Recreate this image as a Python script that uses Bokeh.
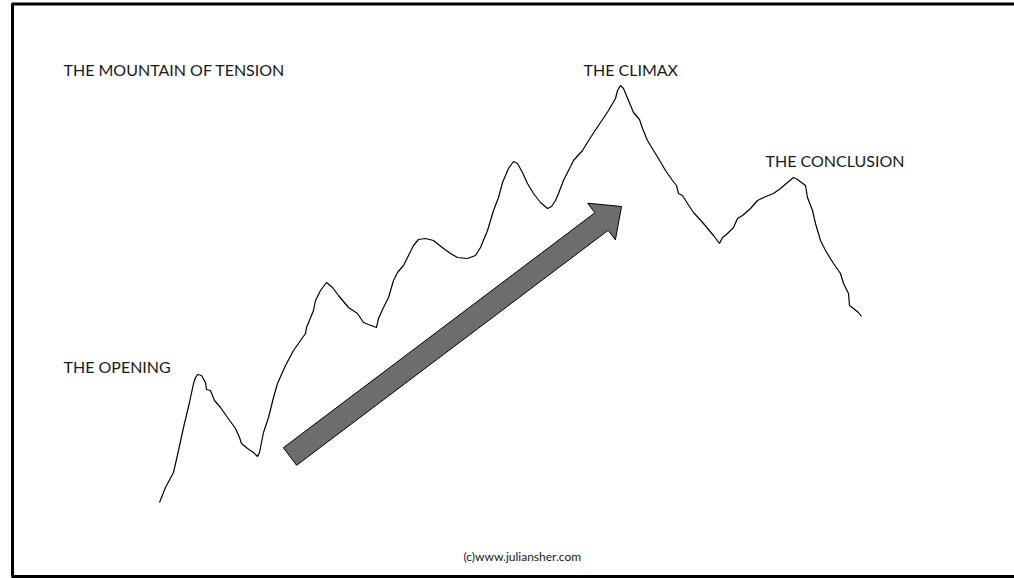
from bokeh.plotting import figure
from bokeh.models import Range1d, ColumnDataSource
from bokeh.embed import file_html
from bokeh.resources import INLINE
from bokeh.core.properties import value
import math

# Mountain outline (image-space coordinates)
mountain_x = [159, 165, 173, 178, 183, 189, 193, 195, 197, 201, 205, 206, 210, 214, 220, 227, 235, 239,
              241, 247, 253, 257, 259, 263, 268, 273, 277, 285, 293, 305, 306, 313, 315, 320, 326, 332,
              338, 348, 357, 363, 368, 376, 378, 383, 388, 393, 397, 403, 408, 413, 418, 425, 433, 443,
              450, 457, 467, 475, 480, 487, 493, 498, 502, 508, 513, 517, 522, 527, 533, 540, 547, 551,
              555, 558, 563, 568, 573, 582, 590, 600, 608, 615, 617, 620, 623, 628, 633, 639, 642, 647,
              653, 658, 665, 672, 676, 678, 682, 687, 693, 703, 713, 719, 722, 727, 733, 737, 742, 750,
              757, 763, 773, 780, 787, 793, 797, 805, 807, 812, 815, 820, 825, 833, 840, 843, 848, 849,
              853, 858, 861]
mountain_y = [502, 487, 472, 450, 427, 402, 383, 377, 374, 375, 382, 389, 390, 400, 407, 417, 428, 437,
              443, 448, 452, 456, 452, 432, 417, 397, 383, 365, 350, 333, 327, 310, 300, 290, 282, 287,
              295, 307, 313, 322, 324, 327, 318, 307, 297, 280, 272, 265, 255, 245, 239, 238, 240, 248,
              253, 257, 258, 255, 247, 230, 210, 197, 182, 168, 161, 163, 172, 183, 193, 202, 208, 206,
              200, 193, 180, 170, 160, 150, 137, 122, 110, 98, 90, 85, 88, 100, 112, 119, 128, 140,
              150, 158, 170, 180, 185, 193, 195, 203, 212, 223, 235, 243, 237, 233, 227, 218, 215, 208,
              200, 197, 193, 188, 182, 177, 179, 185, 197, 210, 223, 240, 250, 263, 273, 283, 293, 305,
              308, 312, 316]

# Arrow: tail centre, tip, shaft width, head width, head length
arrow_tail = (289.5, 456.0)
arrow_tip = (621.0, 206.0)
shaft_width = 22.0
head_width = 46.0
head_length = 25.0

labels = ["THE MOUNTAIN OF TENSION", "THE CLIMAX", "THE CONCLUSION", "THE OPENING"]
label_x = [63, 583, 765, 63]
label_y = [69, 69, 160, 366]
credit = "(c)www.juliansher.com"

W, H = 1014, 578
p = figure(width=W, height=H, output_backend="svg", toolbar_location=None,
           x_range=Range1d(0, W), y_range=Range1d(H, 0),
           min_border=0, outline_line_color=None)
p.axis.visible = False
p.grid.visible = False
p.background_fill_color = "white"
p.border_fill_color = "white"

# frame
p.line([12, 12], [3.5, 576], line_color="black", line_width=3)
p.line([11, 1020], [576, 576], line_color="black", line_width=3)
p.line([11, 1020], [3.5, 3.5], line_color="black", line_width=3)

# mountain
p.line(mountain_x, mountain_y, line_color="black", line_width=1.2)

# arrow polygon computed from the arrow parameters
tx, ty = arrow_tail
hx, hy = arrow_tip
L = math.hypot(hx - tx, hy - ty)
ux, uy = (hx - tx) / L, (hy - ty) / L
nx, ny = -uy, ux
bx, by = hx - ux * head_length, hy - uy * head_length
sw, hw = shaft_width / 2, head_width / 2
pts = [
    (tx + nx * sw, ty + ny * sw),
    (bx + nx * sw, by + ny * sw),
    (bx + nx * hw, by + ny * hw),
    (hx, hy),
    (bx - nx * hw, by - ny * hw),
    (bx - nx * sw, by - ny * sw),
    (tx - nx * sw, ty - ny * sw),
]
p.patch([q[0] for q in pts], [q[1] for q in pts], fill_color="#6d6d6d",
        line_color="black", line_width=1)

src = ColumnDataSource(dict(x=label_x, y=label_y, t=labels))
p.text(x="x", y="y", text="t", source=src, text_font=value("Lato"),
       text_font_size="16px", text_color="#1a1a1a", text_align="left",
       text_baseline="alphabetic")
p.text(x=[463], y=[556], text=[credit], text_font=value("Lato"),
       text_font_size="12px", text_color="#1a1a1a", text_align="left",
       text_baseline="alphabetic")

open("out.html", "w").write(file_html(p, INLINE))
